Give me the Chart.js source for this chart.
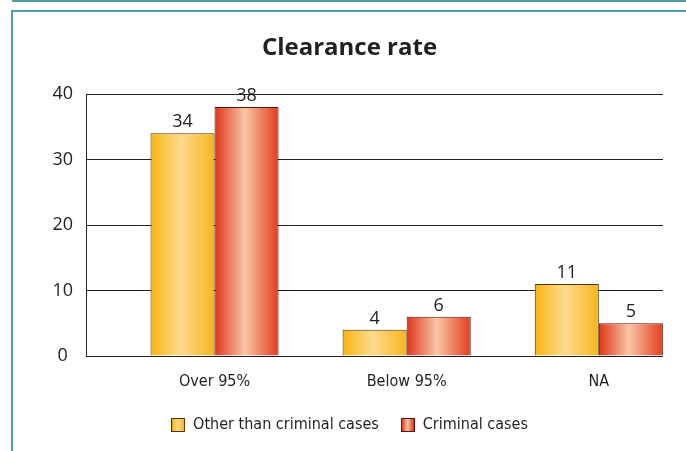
<!DOCTYPE html>
<html>
<head>
<meta charset="utf-8">
<script src="https://cdn.jsdelivr.net/npm/chart.js@4"></script>
<style>
  body{margin:0;background:#fff;}
  #wrap{position:relative;width:686px;height:451px;background:#fff;overflow:hidden;}
  #topline{position:absolute;left:12px;top:0;right:0;height:2px;background:#4f9ea6;}
  #frame{position:absolute;left:11px;top:10px;right:0;bottom:0;border-left:2px solid #4f9ea6;border-top:2px solid #4f9ea6;}
</style>
</head>
<body>
<div id="wrap">
  <div id="topline"></div>
  <div id="frame"><canvas id="chart" width="673" height="439"></canvas></div>
</div>
<script>
// data
const categories = ["Over 95%", "Below 95%", "NA"];
const seriesNames = ["Other than criminal cases", "Criminal cases"];
const otherCases = [34, 4, 11];
const criminalCases = [38, 6, 5];
const yTicks = [0, 10, 20, 30, 40];

const yellow = ["#f8b514", "#fdda8e", "#f8b51e"];
const red = ["#de3519", "#f9c5a6", "#e23c1c"];
const borders = ["#4d3500", "#5a140a"];

const catPct = 2 / 3;
const numFont = "'Open Sans', 'DejaVu Sans', sans-serif";
const narrowFont = "'Liberation Sans Narrow', 'DejaVu Sans Condensed', 'Arial Narrow', sans-serif";

//horizontal gradient for one bar
function barFill(context, colors){
    const chart = context.chart;
    const xs = chart.scales.x;
    if(!xs || !chart.chartArea) return colors[1];
    const step = xs.getPixelForValue(1) - xs.getPixelForValue(0);
    const w = step * catPct / 2;
    const center = xs.getPixelForValue(context.dataIndex);
    const left = center + (context.datasetIndex - 1) * w;
    const g = chart.ctx.createLinearGradient(left, 0, left + w, 0);
    g.addColorStop(0, colors[0]);
    g.addColorStop(0.47, colors[1]);
    g.addColorStop(1, colors[2]);
    return g;
}

//small swatch for legend
function swatch(colors, border){
    const c = document.createElement("canvas");
    c.width = 14; c.height = 14;
    const x = c.getContext("2d");
    const g = x.createLinearGradient(1, 0, 13, 0);
    g.addColorStop(0, colors[0]);
    g.addColorStop(0.47, colors[1]);
    g.addColorStop(1, colors[2]);
    x.fillStyle = g;
    x.fillRect(0, 0, 14, 14);
    x.strokeStyle = border;
    x.lineWidth = 1;
    x.strokeRect(0.5, 0.5, 13, 13);
    return c;
}
const swatches = [swatch(yellow, borders[0]), swatch(red, borders[1])];

//value labels on top of bars
const valueLabels = {
    id: "valueLabels",
    afterDatasetsDraw(chart){
        const ctx = chart.ctx;
        ctx.save();
        ctx.font = "18px " + numFont;
        ctx.fillStyle = "#231f20";
        ctx.textAlign = "center";
        ctx.textBaseline = "alphabetic";
        chart.data.datasets.forEach((ds, di) => {
            chart.getDatasetMeta(di).data.forEach((el, i) => {
                ctx.fillText(String(ds.data[i].y), el.x, el.y - 6);
            });
        });
        ctx.restore();
    }
};

const configChart = {
    type: "bar",
    data: {
        datasets: [
            {
                label: seriesNames[0],
                data: otherCases.map((v, i) => ({x: i, y: v})),
                backgroundColor: c => barFill(c, yellow),
                borderColor: borders[0],
                borderWidth: 1
            },
            {
                label: seriesNames[1],
                data: criminalCases.map((v, i) => ({x: i, y: v})),
                backgroundColor: c => barFill(c, red),
                borderColor: borders[1],
                borderWidth: 1
            }
        ]
    },
    options: {
        responsive: false,
        animation: false,
        categoryPercentage: catPct,
        barPercentage: 1,
        layout: {padding: {left: 0, right: 0, top: 0, bottom: 8}},
        scales: {
            x: {
                type: "linear",
                offset: false,
                min: -0.669,
                max: 2.334,
                afterBuildTicks: s => { s.ticks = categories.map((c, i) => ({value: i})); },
                afterFit: s => { s.height = 39; },
                grid: {display: false},
                border: {display: false},
                ticks: {
                    callback: v => categories[v],
                    font: {family: narrowFont, size: 16},
                    color: "#231f20",
                    padding: 8,
                    autoSkip: false,
                    maxRotation: 0
                }
            },
            y: {
                min: 0,
                max: 40,
                afterBuildTicks: s => { s.ticks = yTicks.map(v => ({value: v})); },
                afterFit: s => { s.width = 73; },
                grid: {color: "#231f20", lineWidth: 1, drawTicks: false},
                border: {display: true, color: "#231f20", width: 1},
                ticks: {
                    font: {family: numFont, size: 18},
                    color: "#231f20",
                    padding: 13,
                    crossAlign: "center"
                }
            },
            right: {
                type: "linear",
                position: "right",
                display: true,
                grid: {display: false},
                border: {display: false},
                ticks: {display: false},
                afterFit: s => { s.width = 23; }
            }
        },
        plugins: {
            title: {
                display: true,
                text: "Clearance rate",
                color: "#231f20",
                font: {family: numFont, size: 24, weight: "bold", lineHeight: 1.2},
                padding: {top: 21.6, bottom: 31.6}
            },
            legend: {
                position: "bottom",
                labels: {
                    usePointStyle: true,
                    boxWidth: 14,
                    boxHeight: 14,
                    padding: 22,
                    color: "#231f20",
                    font: {family: narrowFont, size: 16},
                    generateLabels: chart => chart.data.datasets.map((ds, i) => ({
                        text: ds.label,
                        pointStyle: swatches[i],
                        fillStyle: yellow[1],
                        strokeStyle: borders[i],
                        lineWidth: 0,
                        fontColor: "#231f20",
                        datasetIndex: i
                    }))
                }
            },
            tooltip: {enabled: false}
        }
    },
    plugins: [valueLabels]
};

const chart = new Chart(document.querySelector("#chart"), configChart);
</script>
</body>
</html>
